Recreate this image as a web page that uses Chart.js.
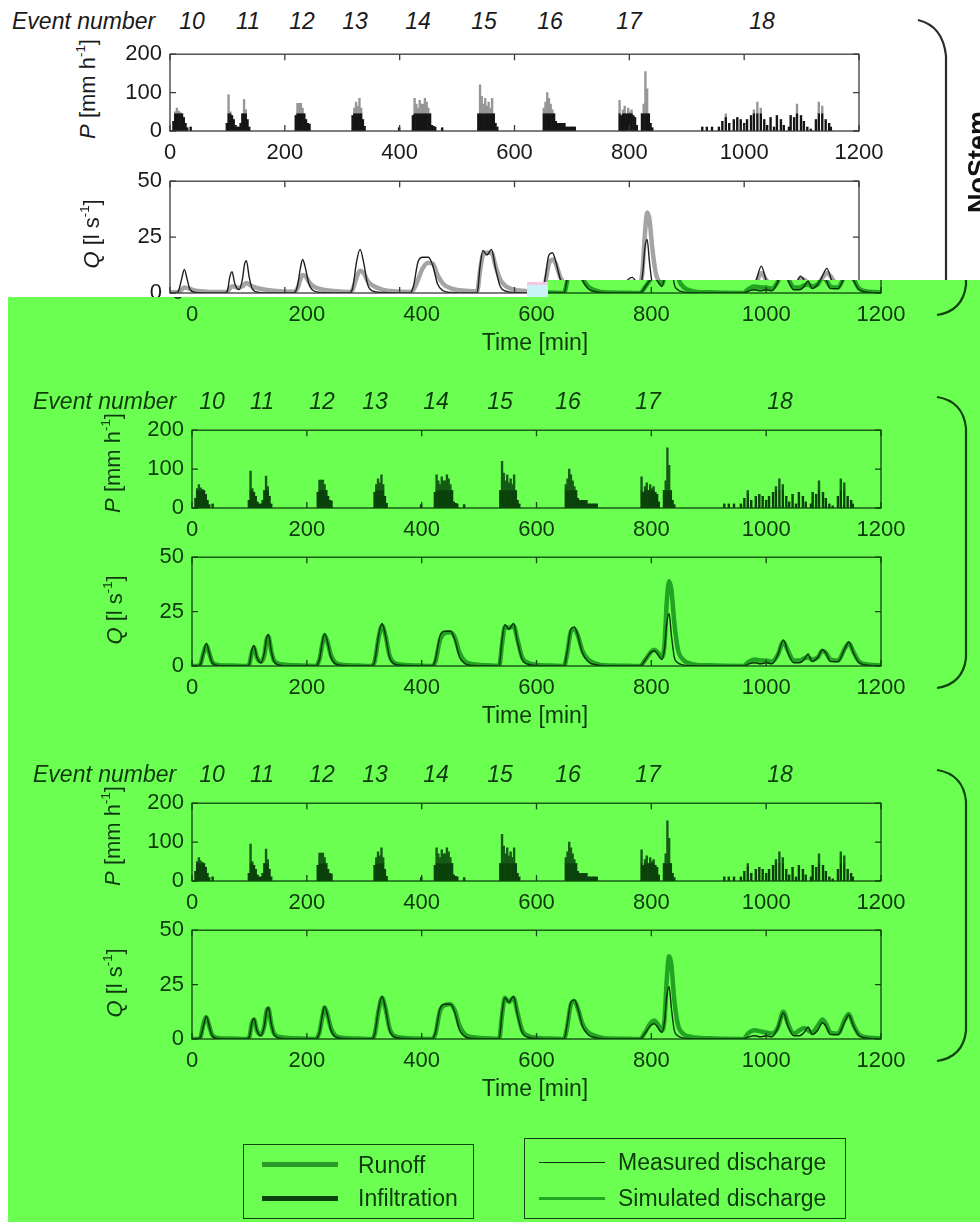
<!DOCTYPE html>
<html><head><meta charset="utf-8">
<script src="https://cdn.jsdelivr.net/npm/chart.js@4.4.0/dist/chart.umd.min.js"></script>
<style>
html,body{margin:0;padding:0;background:#fff;}
#root{position:relative;width:980px;height:1222px;overflow:hidden;font-family:"Liberation Sans",Arial,sans-serif;}
sup{font-size:0.6em;vertical-align:0.75em;line-height:0;}
</style></head><body><div id="root"></div>
<script>
// ---------------- DATA ----------------
const xTicks = [0, 200, 400, 600, 800, 1000, 1200];
const pTicks = [0, 100, 200];
const qTicks = [0, 25, 50];
const eventNumbers = ['10', '11', '12', '13', '14', '15', '16', '17', '18'];

// Rainfall (3-min bars), mm/h
const pTime = [
  6,9,12,15,18,21,24,27,30,36,
  99,102,105,108,111,114,117,120,123,126,129,132,135,138,
  219,222,225,228,231,234,237,240,243,
  318,321,324,327,330,333,336,339,
  399,423,426,429,432,435,438,441,444,447,450,453,456,459,462,474,
  537,540,543,546,549,552,555,558,561,564,567,570,
  651,654,657,660,663,666,669,672,675,678,681,684,687,690,693,696,699,702,705,
  783,786,789,792,795,798,801,804,807,810,813,822,825,828,831,834,837,840,
  927,935,944,956,962,968,974,982,988,994,1000,1005,1012,1017,1023,1029,1035,1040,1046,1052,1057,1064,1069,1078,1081,1087,1092,1099,1104,1110,1116,1125,1130,1136,1142,1148,1151
];
const pInfiltration = [
  25,45,45,45,45,45,35,20,8,10,
  20,45,45,40,30,15,10,10,20,45,45,45,30,10,
  40,45,45,45,45,45,30,20,18,
  40,45,45,45,45,45,30,12,
  8,40,45,45,45,45,45,45,45,45,45,45,15,12,10,8,
  45,45,45,45,45,45,45,45,45,45,20,10,
  45,45,45,45,45,45,45,25,20,20,20,20,20,10,10,10,10,10,10,
  45,40,45,45,45,45,45,45,40,35,15,45,45,45,45,45,20,8,
  10,10,10,10,25,35,20,30,35,30,20,30,40,45,45,45,30,15,35,10,40,30,15,10,40,35,45,40,25,10,5,30,45,45,30,20,10
];
const pRunoff = [
  0,5,15,7,3,0,0,0,0,0,
  0,50,5,0,0,0,0,0,0,0,37,10,0,0,
  0,27,27,27,15,0,0,0,0,
  0,15,30,20,40,15,0,0,
  0,0,40,25,15,35,25,25,40,30,15,0,0,0,0,0,
  0,75,45,25,40,20,30,15,40,0,0,0,
  15,30,55,40,25,10,0,0,0,0,0,0,0,0,0,0,0,0,0,
  35,0,10,20,0,15,5,10,0,0,0,0,25,110,65,0,0,0,
  0,0,0,0,0,10,0,0,0,0,0,0,0,10,30,15,0,0,0,0,0,0,0,0,0,0,25,0,0,0,0,0,30,20,0,0,0
];

// Discharge, l/s
const qTime = [
  0,10,15,20,25,30,35,45,70,
  95,100,104,108,113,120,126,130,133,138,143,155,180,
  215,222,227,231,236,242,250,265,290,
  312,318,325,331,337,344,352,370,395,
  418,424,432,440,450,458,466,476,490,515,
  535,540,545,552,560,567,575,585,600,625,
  648,653,660,666,672,680,690,705,720,760,
  780,790,798,805,812,818,823,827,831,835,840,846,855,870,900,
  960,970,980,990,1000,1010,1020,1030,1038,1048,1058,1066,1073,1080,1090,1098,1104,1112,1125,1137,1144,1152,1162,1180,1200
];
const qMeasured = [
  0,0,1,6,10.5,6,1.5,0.2,0,
  0,1,7,9.5,4,1.5,6,13,14.5,7,2,0.3,0,
  0,3,11,15,11,4,1,0.2,0,
  0,2,14,19.5,14,4,1,0.2,0,
  0,3,14,16,16,12,4,1,0.2,0,
  0,12,19,17,19.5,11,3,0.8,0.2,0,
  0,6,17,18,14,6,2,0.5,0.1,0,
  0,3,6,7,5,3,8,20,24,14,4,1.5,0.5,0.1,0,
  0,1,1.5,1,1.5,1,5,12,6,1.5,1.5,3,5.5,2,4,7.5,6,2,2,8,11,6,1.5,0.3,0
];
const qSimNoStem = [
  0.3,0.3,0.5,1.5,2.5,2.2,1.8,1,0.5,
  0.4,0.6,2,3,2.8,2.3,3,4,4.5,3.8,3,2,1,
  0.6,2,6,8,7.5,5,3,1.6,0.8,
  0.5,1.5,7,10,9,5.5,3.5,1.5,0.7,
  0.5,1.5,6,11,13.5,13,8,4,2,1,
  0.7,10,17,18,18,12,6,3,1.5,0.8,
  0.5,4,13,15,13,7,3,1.5,0.8,0.3,
  0.2,2,4,5,4.5,4,10,26,36,33,20,9,4,1.5,0.6,
  0.3,1,1.5,1.5,2,2,4,9,6,3,2.5,3,4,3,4,6,6,4,3,7,9,7,3,1.2,0.5
];
const qSimPanel2 = [
  0,0,1,6,9.5,6,2,0.5,0.2,
  0,1,6,8.5,4,2,5,12,13.5,7,2.5,0.8,0.3,
  0,3,10,14,11,5,1.5,0.5,0.2,
  0,2,13,18.5,14,5,1.5,0.5,0.2,
  0,2,12,15,15.5,13,6,2,0.8,0.3,
  0,10,18,17.5,18.5,12,4,1.5,0.6,0.2,
  0,5,16,17,14,7,3,1,0.3,0.1,
  0,3,6,7.5,6,4,10,30,39,35,20,8,3,1,0.3,
  0,2,3,2.5,2.5,2,5,11,7,2.5,2.5,3.5,4,3,4,7,6,3,2.5,8,10.5,6.5,2,0.6,0.2
];
const qSimPanel3 = [
  0,0,1,7,10,6,2,0.5,0.2,
  0,1,7,9,4,2,6,13,14,7,2.5,0.8,0.3,
  0,3,10,14.5,11,5,1.5,0.5,0.2,
  0,2,13,19,14,5,1.5,0.5,0.2,
  0,2.5,13,15.5,16,13,6,2,0.8,0.3,
  0,11,19,17,19,12,4,1.5,0.6,0.2,
  0,5,16,17.5,14,7,3,1.2,0.3,0.1,
  0,3.5,7,8.5,6.5,4,9,28,38,34,18,7,2.5,1,0.3,
  0,3,4,3.5,3,2.5,5,12.5,7,2.5,4,5,4,3,6,9,7,3,2.5,9,11.5,6.5,2,0.6,0.2
];

// ---------------- LAYOUT / STYLE ----------------
const FONT = '"Liberation Sans", Arial, Helvetica, sans-serif';
const GREEN_BG = '#6bff52';
const STY_GRAY = {text:'#1a1a1a', axis:'#3a3a3a', inf:'#151515', run:'#969696', meas:'#1e1e1e', sim:'#a4a4a4', brace:'#2a2a2a'};
const STY_GREEN = {text:'#0c3a0c', axis:'#0f440f', inf:'#0b420b', run:'#155a15', meas:'#093209', sim:'#22a322', brace:'#0f440f'};
const YW = 70, XH = 36, PT = 14, PR = 34;
const root = document.getElementById('root');

function el(parent, tag, style, html) {
  const e = document.createElement(tag);
  Object.assign(e.style, style);
  if (html != null) e.innerHTML = html;
  parent.appendChild(e);
  return e;
}
function text(parent, x, y, html, o = {}) {
  const ax = (o.ax == null) ? -50 : o.ax;
  return el(parent, 'div', {
    position:'absolute', left:x + 'px', top:y + 'px',
    transform:`translate(${ax}%,-50%)` + (o.rot ? ` rotate(${o.rot}deg)` : ''),
    whiteSpace:'nowrap', fontFamily:FONT, fontSize:(o.size || 22) + 'px',
    fontStyle:o.italic ? 'italic' : 'normal', fontWeight:o.bold ? 'bold' : 'normal',
    color:o.color || '#111', lineHeight:'1'
  }, html);
}

const boxTicks = {
  id:'boxTicks',
  afterDatasetsDraw(chart, args, opts) {
    const {ctx, chartArea:a, scales:{x, y}} = chart;
    ctx.save();
    ctx.strokeStyle = opts.color; ctx.lineWidth = opts.width;
    ctx.strokeRect(a.left, a.top, a.right - a.left, a.bottom - a.top);
    const L = opts.len;
    ctx.beginPath();
    x.ticks.forEach(t => { const px = x.getPixelForValue(t.value);
      ctx.moveTo(px, a.bottom); ctx.lineTo(px, a.bottom - L);
      ctx.moveTo(px, a.top); ctx.lineTo(px, a.top + L); });
    y.ticks.forEach(t => { const py = y.getPixelForValue(t.value);
      ctx.moveTo(a.left, py); ctx.lineTo(a.left + L, py);
      ctx.moveTo(a.right, py); ctx.lineTo(a.right - L, py); });
    ctx.stroke(); ctx.restore();
  }
};

function makeChart(parent, rect, sty, type, datasets, yMax, yTicks) {
  const [L, T, R, B] = rect;
  const w = (R - L) + YW + PR, h = (B - T) + PT + XH;
  const c = document.createElement('canvas');
  c.width = w; c.height = h;
  Object.assign(c.style, {position:'absolute', left:(L - YW) + 'px', top:(T - PT) + 'px', width:w + 'px', height:h + 'px'});
  parent.appendChild(c);
  const isBar = type === 'bar';
  new Chart(c, {
    type, data:{datasets},
    options:{
      responsive:false, animation:false, devicePixelRatio:1,
      layout:{padding:{left:0, top:PT, right:PR, bottom:0}},
      plugins:{legend:{display:false}, tooltip:{enabled:false}, boxTicks:{color:sty.axis, width:1.3, len:6}},
      scales:{
        x:{type:'linear', min:0, max:1200, offset:false, stacked:isBar,
           afterBuildTicks:s => { s.ticks = xTicks.map(v => ({value:v})); },
           afterFit:s => { s.height = XH; },
           grid:{display:false, drawTicks:false}, border:{display:false},
           ticks:{color:sty.text, font:{family:FONT, size:22}, padding:9, maxRotation:0, autoSkip:false, callback:v => String(v)}},
        y:{type:'linear', min:0, max:yMax, stacked:isBar,
           afterBuildTicks:s => { s.ticks = yTicks.map(v => ({value:v})); },
           afterFit:s => { s.width = YW; },
           grid:{display:false, drawTicks:false}, border:{display:false},
           ticks:{color:sty.text, font:{family:FONT, size:22}, padding:8, callback:v => String(v)}}
      }
    },
    plugins:[boxTicks]
  });
}

function pDatasets(sty) {
  return [
    {label:'Infiltration', data:pTime.map((t, i) => ({x:t, y:pInfiltration[i]})), backgroundColor:sty.inf, barPercentage:1, categoryPercentage:1, borderWidth:0},
    {label:'Runoff', data:pTime.map((t, i) => ({x:t, y:pRunoff[i]})), backgroundColor:sty.run, barPercentage:1, categoryPercentage:1, borderWidth:0}
  ];
}
function qDatasets(sty, sim) {
  return [
    {label:'Measured discharge', data:qTime.map((t, i) => ({x:t, y:qMeasured[i]})), borderColor:sty.meas, borderWidth:1.4, pointRadius:0, cubicInterpolationMode:'monotone', fill:false},
    {label:'Simulated discharge', data:qTime.map((t, i) => ({x:t, y:sim[i]})), borderColor:sty.sim, borderWidth:4.5, pointRadius:0, cubicInterpolationMode:'monotone', fill:false, borderJoinStyle:'round'}
  ];
}
function brace(parent, d, color) {
  const ns = 'http://www.w3.org/2000/svg';
  const svg = document.createElementNS(ns, 'svg');
  svg.setAttribute('width', '980'); svg.setAttribute('height', '1222');
  Object.assign(svg.style, {position:'absolute', left:'0', top:'0', overflow:'visible'});
  const p = document.createElementNS(ns, 'path');
  p.setAttribute('d', d); p.setAttribute('fill', 'none'); p.setAttribute('stroke', color); p.setAttribute('stroke-width', '2.2');
  svg.appendChild(p); parent.appendChild(svg);
}

function buildPanel(parent, c) {
  const s = c.sty;
  text(parent, c.evX0, c.evY, 'Event number', {ax:0, italic:true, size:23, color:s.text});
  eventNumbers.forEach((n, i) => text(parent, c.evXs[i], c.evY, n, {italic:true, size:23, color:s.text}));
  makeChart(parent, c.pRect, s, 'bar', pDatasets(s), 200, pTicks);
  makeChart(parent, c.qRect, s, 'line', qDatasets(s, c.sim), 50, qTicks);
  text(parent, c.pTitle[0], c.pTitle[1], '<i>P</i> [mm h<sup>-1</sup>]', {rot:-90, size:22, color:s.text});
  text(parent, c.qTitle[0], c.qTitle[1], '<i>Q</i> [l s<sup>-1</sup>]', {rot:-90, size:22, color:s.text});
  if (c.timeLbl) text(parent, c.timeLbl[0], c.timeLbl[1], 'Time [min]', {size:23, color:s.text});
  brace(parent, c.brace, s.brace);
}

function greenCfg(Y0, sim) {
  return {
    sty:STY_GREEN, sim,
    evX0:33, evY:Y0 + 21,
    evXs:[212, 262, 322, 375, 436, 500, 568, 648, 780],
    pRect:[192, Y0 + 43, 881, Y0 + 128],
    qRect:[192, Y0 + 170, 881, Y0 + 286],
    pTitle:[113, Y0 + 83], qTitle:[115, Y0 + 230],
    timeLbl:[535, Y0 + 335],
    brace:`M 937 ${Y0 + 17} Q 963 ${Y0 + 21} 966 ${Y0 + 48} L 966 ${Y0 + 278} Q 963 ${Y0 + 304} 937 ${Y0 + 308}`
  };
}

// ---- Top panel (NoStem, grayscale) ----
buildPanel(root, {
  sty:STY_GRAY, sim:qSimNoStem,
  evX0:12, evY:21,
  evXs:[192, 248, 302, 355, 418, 484, 550, 629, 762],
  pRect:[170, 47, 859, 131],
  qRect:[170, 174, 859, 293],
  pTitle:[88, 89], qTitle:[92, 234],
  timeLbl:null,
  brace:'M 918 20 Q 943 26 946 56 L 946 330'
});
text(root, 978, 162, 'NoStem', {rot:-90, size:27, bold:true, color:'#111'});

// ---- Green overlay region ----
const CLIP = 'polygon(548px 280px, 980px 280px, 980px 1222px, 8px 1222px, 8px 297px, 548px 297px)';
el(root, 'div', {position:'absolute', left:'0', top:'0', width:'980px', height:'1222px', background:GREEN_BG, clipPath:CLIP});
el(root, 'div', {position:'absolute', left:'527px', top:'282px', width:'21px', height:'15px', background:'#c8f4f8', borderTop:'3px solid #f4c8e4', boxSizing:'border-box'});
const ghost = el(root, 'div', {position:'absolute', left:'0', top:'0', width:'980px', height:'1222px', clipPath:CLIP});
buildPanel(ghost, greenCfg(7, qSimPanel2));

// ---- Middle and bottom panels ----
buildPanel(root, greenCfg(380, qSimPanel2));
buildPanel(root, greenCfg(753, qSimPanel3));

// ---- Legends ----
const LG = STY_GREEN;
el(root, 'div', {position:'absolute', left:'243px', top:'1144px', width:'231px', height:'75px', border:'1.5px solid ' + LG.axis, boxSizing:'border-box'});
el(root, 'div', {position:'absolute', left:'262px', top:'1162px', width:'76px', height:'5px', background:'#2a9a2a'});
text(root, 358, 1165, 'Runoff', {ax:0, size:23, color:LG.text});
el(root, 'div', {position:'absolute', left:'262px', top:'1196px', width:'76px', height:'5px', background:LG.inf});
text(root, 358, 1198, 'Infiltration', {ax:0, size:23, color:LG.text});

el(root, 'div', {position:'absolute', left:'524px', top:'1138px', width:'322px', height:'81px', border:'1.5px solid ' + LG.axis, boxSizing:'border-box'});
el(root, 'div', {position:'absolute', left:'539px', top:'1162px', width:'66px', height:'1px', background:LG.meas});
text(root, 618, 1162, 'Measured discharge', {ax:0, size:23, color:LG.text});
el(root, 'div', {position:'absolute', left:'539px', top:'1197px', width:'66px', height:'3px', background:LG.sim});
text(root, 618, 1198, 'Simulated discharge', {ax:0, size:23, color:LG.text});
</script>
</body></html>
